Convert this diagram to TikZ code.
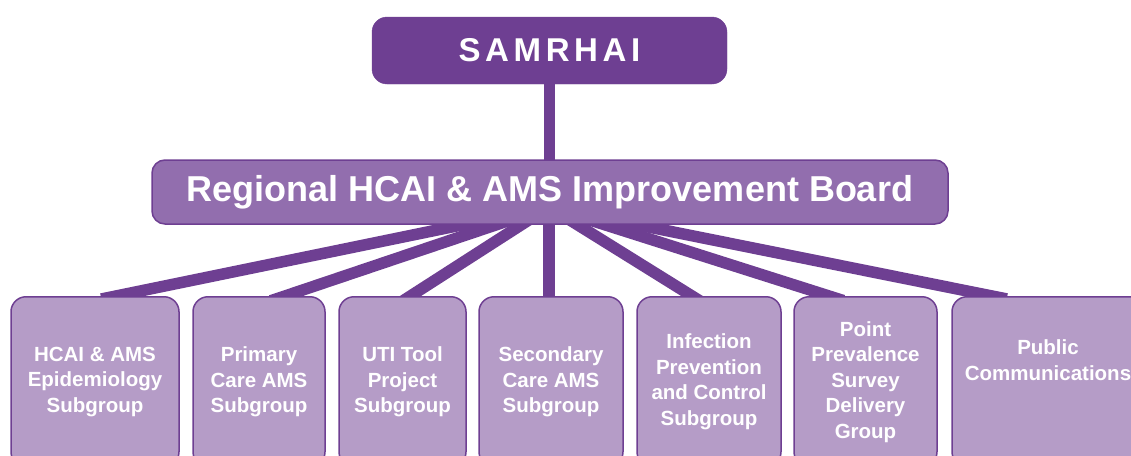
\documentclass[tikz,border=0pt]{standalone}
\usepackage{fontspec}
\setmainfont{Liberation Sans}
\usetikzlibrary{backgrounds}
\definecolor{darkpurple}{HTML}{6E3F92}
\definecolor{midpurple}{HTML}{926EAE}
\definecolor{lightpurple}{HTML}{B59CC7}
\begin{document}
\begin{tikzpicture}[x=1pt,y=-1pt,
    topbox/.style={fill=darkpurple, draw=darkpurple, rounded corners=15pt, minimum width=355pt, minimum height=67pt, text=white,
        font=\fontsize{33}{36}\selectfont\bfseries\addfontfeature{LetterSpace=14}},
    boardbox/.style={fill=midpurple, draw=darkpurple, line width=1.5pt, rounded corners=13pt, minimum width=796pt, minimum height=64pt, text=white,
        font=\fontsize{36}{40}\selectfont\bfseries},
    subbox/.style={fill=lightpurple, draw=darkpurple, line width=1.5pt, rounded corners=15pt, anchor=north, minimum height=170pt, text=white, align=center,
        font=\fontsize{20.5}{25.5}\selectfont\bfseries},
    subtext/.style={text=white, align=center, font=\fontsize{20.5}{25.5}\selectfont\bfseries},
    link/.style={draw=darkpurple, line width=11.5pt, shorten >=-15pt}]
    \useasboundingbox (0,0) rectangle (1131,455);
    % top and board
    \node[topbox] (samrhai) at (549.5,50.5) {SAMRHAI};
    \node[boardbox] (board) at (550,192) {Regional HCAI \& AMS Improvement Board};
    \coordinate (hub) at (549,207);
    % subgroups
    \node[subbox, minimum width=168pt] (epi) at (95,296) {HCAI \& AMS\\Epidemiology\\Subgroup};
    \node[subbox, minimum width=132pt] (primary) at (259,296) {Primary\\Care AMS\\Subgroup};
    \node[subbox, minimum width=127pt] (uti) at (402.5,296) {UTI Tool\\Project\\Subgroup};
    \node[subbox, minimum width=144pt] (secondary) at (551,296) {Secondary\\Care AMS\\Subgroup};
    \node[subbox, minimum width=144pt] (ipc) at (709,296) {Infection\\Prevention\\and Control\\Subgroup};
    \node[subbox, minimum width=143pt] (pps) at (865.5,296) {Point\\Prevalence\\Survey\\Delivery\\Group};
    \node[subbox, minimum width=192pt] (comms) at (1048,296) {};
    \node[subtext] (commstext) at ([yshift=-64pt]comms.north) {Public\\Communications};
    % lines
    \begin{scope}[on background layer]
        \draw[link] (samrhai.south) -- (samrhai.south |- board.north);
        \draw[link] (hub) -- ([xshift=21pt]epi.north);
        \draw[link] (hub) -- ([xshift=26pt]primary.north);
        \draw[link] (hub) -- ([xshift=8pt]uti.north);
        \draw[link] (hub) -- ([xshift=-2pt]secondary.north);
        \draw[link] (hub) -- ([xshift=-17pt]ipc.north);
        \draw[link] (hub) -- ([xshift=-36.5pt]pps.north);
        \draw[link] (hub) -- ([xshift=-56pt]comms.north);
    \end{scope}
\end{tikzpicture}
\end{document}
